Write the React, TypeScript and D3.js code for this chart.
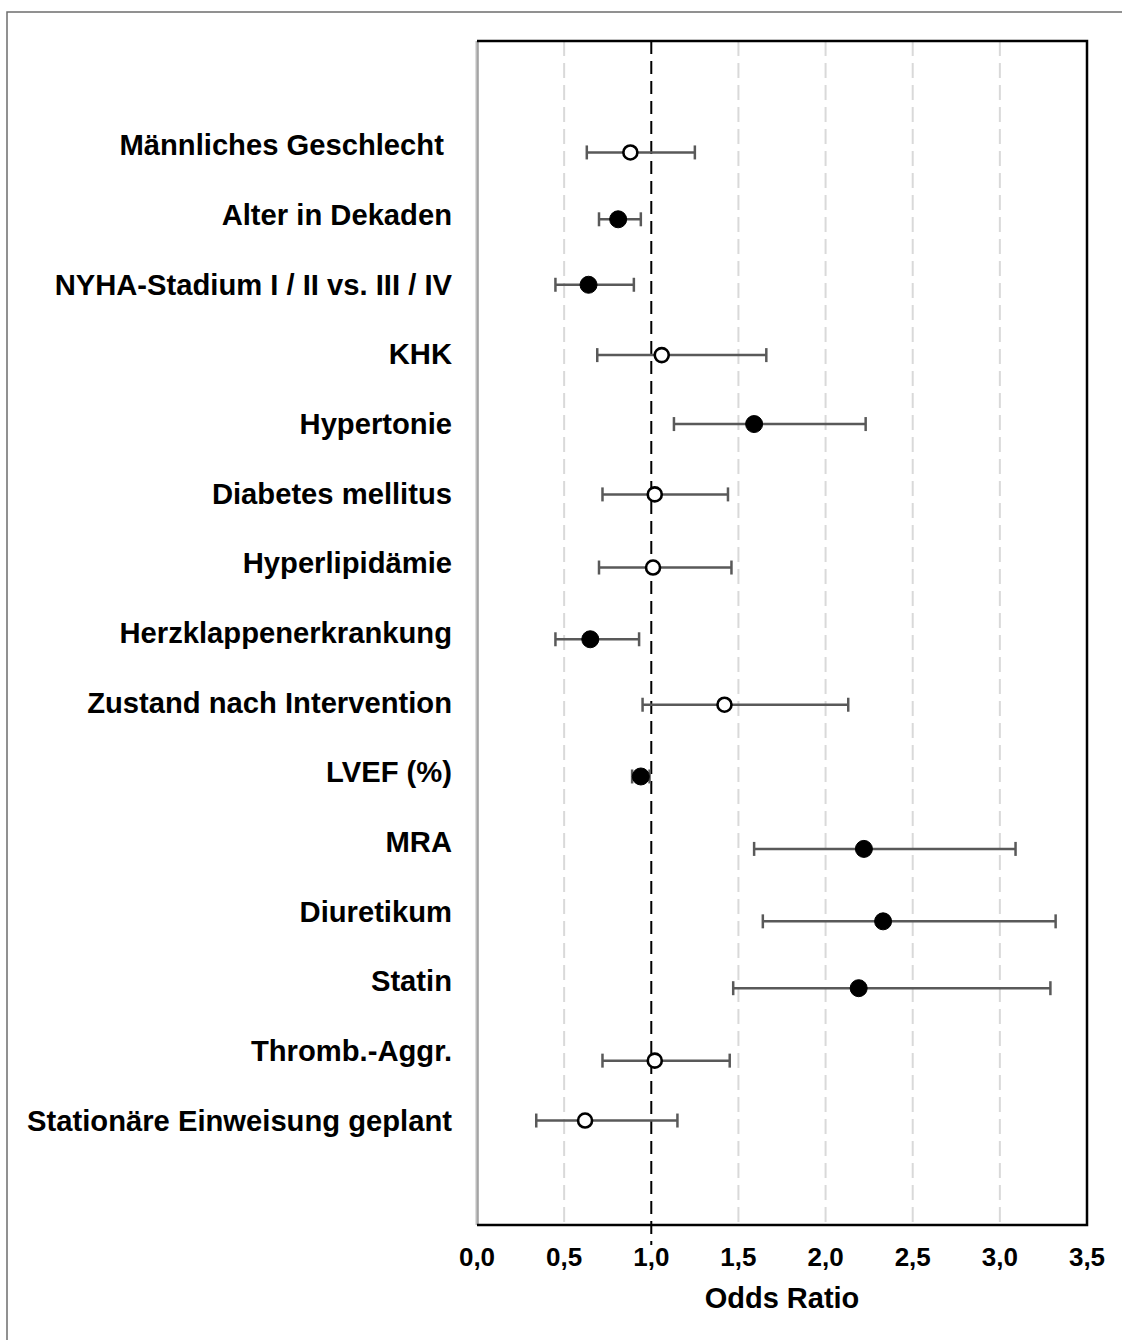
import React from "react";
import * as d3 from "d3";

// Risk factors (top to bottom)
const categories = [
  "Männliches Geschlecht ",
  "Alter in Dekaden",
  "NYHA-Stadium I / II vs. III / IV",
  "KHK",
  "Hypertonie",
  "Diabetes mellitus",
  "Hyperlipidämie",
  "Herzklappenerkrankung",
  "Zustand nach Intervention",
  "LVEF (%)",
  "MRA",
  "Diuretikum",
  "Statin",
  "Thromb.-Aggr.",
  "Stationäre Einweisung geplant",
];

// Odds ratios with 95% confidence limits
const oddsRatio = [0.88, 0.81, 0.64, 1.06, 1.59, 1.02, 1.01, 0.65, 1.42, 0.94, 2.22, 2.33, 2.19, 1.02, 0.62];
const ciLower = [0.63, 0.70, 0.45, 0.69, 1.13, 0.72, 0.70, 0.45, 0.95, 0.89, 1.59, 1.64, 1.47, 0.72, 0.34];
const ciUpper = [1.25, 0.94, 0.90, 1.66, 2.23, 1.44, 1.46, 0.93, 2.13, 0.99, 3.09, 3.32, 3.29, 1.45, 1.15];
// significant results are drawn as filled markers
const significant = [false, true, true, false, true, false, false, true, false, true, true, true, true, false, false];
// vertical placement of each marker in row units
const markRow = [0.1, 1.06, 2.0, 3.01, 4.0, 5.01, 6.06, 7.09, 8.03, 9.06, 10.1, 11.14, 12.1, 13.14, 14.0];

const xTicks = [0, 0.5, 1, 1.5, 2, 2.5, 3, 3.5];
const gridValues = [0.5, 1.5, 2, 2.5, 3];
const referenceValue = 1;
const xTitle = "Odds Ratio";

const W = 1122;
const H = 1340;
const plot = { left: 477, right: 1087, top: 41, bottom: 1225 };
const FONT = "Arial, 'Liberation Sans', Helvetica, sans-serif";

export default function App() {
  const x = d3.scaleLinear().domain([0, 3.5]).range([plot.left, plot.right]);
  const y = d3.scaleLinear().domain([-1.5, 15.5]).range([plot.top, plot.bottom]);
  const fmt = (v: number) => d3.format(".1f")(v).replace(".", ",");
  const capH = 7;

  return (
    <svg
      width={W}
      height={H}
      style={{ position: "absolute", left: 0, top: 0, background: "#fff" }}
      fontFamily={FONT}
    >
      <rect x={0} y={0} width={W} height={H} fill="#fff" />
      {/* outer frame */}
      <path d={`M7,${H} L7,12 L${W},12`} fill="none" stroke="#6e6e6e" strokeWidth={1.5} />

      {/* grid lines */}
      {gridValues.map((v) => (
        <line
          key={v}
          x1={x(v)}
          x2={x(v)}
          y1={plot.top}
          y2={plot.bottom}
          stroke="#d9d9d9"
          strokeWidth={2}
          strokeDasharray="15 7"
        />
      ))}

      {/* plot frame */}
      <line x1={plot.left} x2={plot.left} y1={plot.top} y2={plot.bottom} stroke="#bdbdbd" strokeWidth={3} />
      <line x1={plot.left + 1} x2={plot.left + 1} y1={plot.top} y2={plot.bottom} stroke="#8a8a8a" strokeWidth={1} />
      <path
        d={`M${plot.left},${plot.top} L${plot.right},${plot.top} L${plot.right},${plot.bottom} L${plot.left},${plot.bottom}`}
        fill="none"
        stroke="#000"
        strokeWidth={2.5}
      />

      {/* reference line at OR = 1 */}
      <line
        x1={x(referenceValue)}
        x2={x(referenceValue)}
        y1={plot.top}
        y2={plot.bottom + 20}
        stroke="#000"
        strokeWidth={2}
        strokeDasharray="13 7"
      />

      {/* category labels */}
      {categories.map((c, i) => (
        <text
          key={c}
          x={452}
          y={y(i) + 10}
          textAnchor="end"
          fontSize={29.2}
          fontWeight="bold"
          fill="#000"
          style={{ whiteSpace: "pre" }}
        >
          {c}
        </text>
      ))}

      {/* confidence intervals and point estimates */}
      {categories.map((c, i) => {
        const yy = y(markRow[i]);
        return (
          <g key={"m" + i}>
            <line x1={x(ciLower[i])} x2={x(ciUpper[i])} y1={yy} y2={yy} stroke="#595959" strokeWidth={2.5} />
            <line x1={x(ciLower[i])} x2={x(ciLower[i])} y1={yy - capH} y2={yy + capH} stroke="#595959" strokeWidth={2.5} />
            <line x1={x(ciUpper[i])} x2={x(ciUpper[i])} y1={yy - capH} y2={yy + capH} stroke="#595959" strokeWidth={2.5} />
            <circle
              cx={x(oddsRatio[i])}
              cy={yy}
              r={significant[i] ? 8.5 : 7}
              fill={significant[i] ? "#000" : "#fff"}
              stroke="#000"
              strokeWidth={significant[i] ? 1 : 2.6}
            />
          </g>
        );
      })}

      {/* x tick labels */}
      {xTicks.map((t) => (
        <text key={t} x={x(t)} y={1266} textAnchor="middle" fontSize={26} fontWeight="bold" fill="#000">
          {fmt(t)}
        </text>
      ))}
      <text x={(plot.left + plot.right) / 2} y={1308} textAnchor="middle" fontSize={29} fontWeight="bold" fill="#000">
        {xTitle}
      </text>
    </svg>
  );
}
